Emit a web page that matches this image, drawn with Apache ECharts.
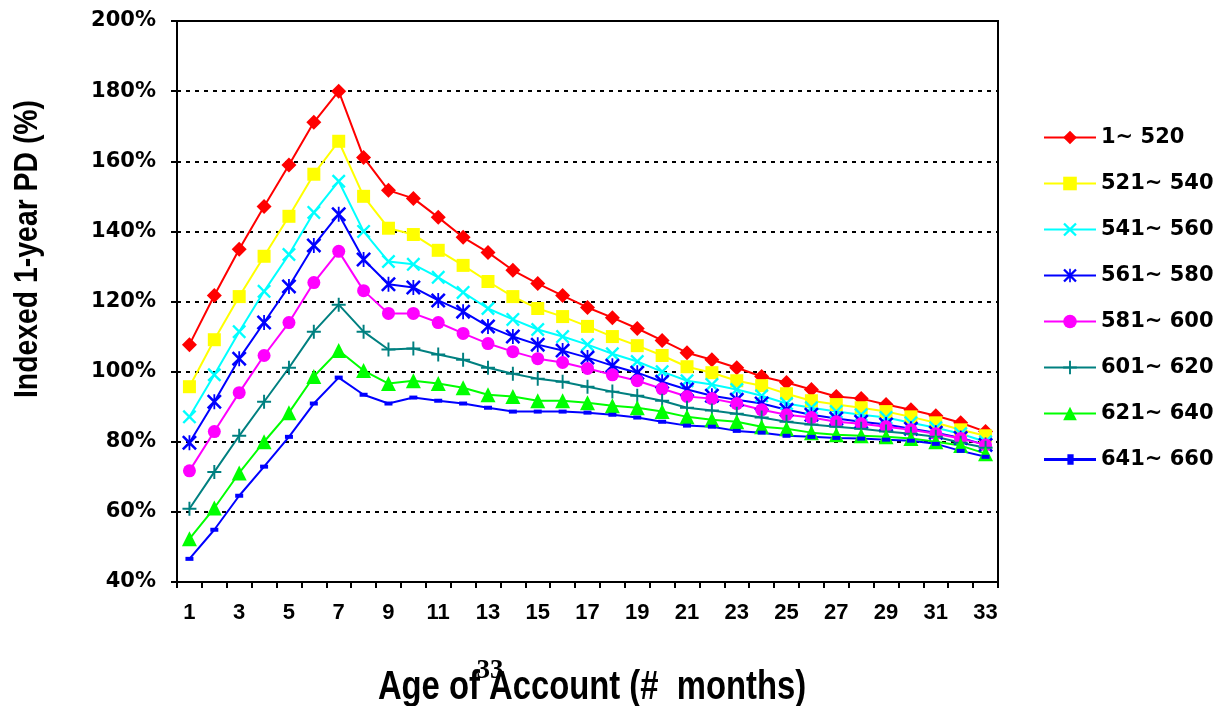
<!DOCTYPE html>
<html>
<head>
<meta charset="utf-8">
<script src="https://cdn.jsdelivr.net/npm/echarts@6/dist/echarts.min.js"></script>
<style>
  html, body { margin: 0; padding: 0; background: #fff; }
  #chart { width: 1231px; height: 706px; }
</style>
</head>
<body>
<div id="chart"></div>
<script>
var months = ['1','2','3','4','5','6','7','8','9','10','11','12','13','14','15','16','17','18','19','20','21','22','23','24','25','26','27','28','29','30','31','32','33']
var yTicks = { min: 40, max: 200, step: 20 }

var names = ['1~ 520', '521~ 540', '541~ 560', '561~ 580', '581~ 600', '601~ 620', '621~ 640', '641~ 660']

var s520 = [107.7,121.7,134.9,147.1,158.9,171.1,180,161.1,151.7,149.4,144,138.3,134,128.9,125.1,121.7,118.3,115.4,112.3,108.9,105.4,103.4,101.1,98.6,96.9,94.9,92.9,92.3,90.6,89.1,87.4,85.4,82.9]
var s540 = [95.7,109.1,121.4,132.9,144.3,156.3,165.7,150,140.9,139.1,134.6,130.3,125.7,121.4,118,115.7,112.9,110,107.4,104.6,101.4,99.7,97.4,96,93.7,91.7,90.6,89.7,88.6,87.1,85.4,83.4,81.7]
var s560 = [87.1,99.1,111.4,122.9,133.4,145.4,154.3,140,131.4,130.6,126.9,122.6,118,114.9,112,110,107.7,105.1,102.9,100,97.4,96.3,94.9,93.1,90.9,89.7,88.6,87.7,86.9,85.4,84,82.3,80]
var s580 = [79.7,91.4,103.7,114,124.3,136,144.9,132,124.9,124,120.3,117.1,112.9,110,107.7,106,104,101.7,99.7,97.1,94.9,93.1,92,90.9,89.1,87.7,86.6,85.7,84.9,83.7,82.6,81.1,79.1]
var s600 = [71.7,82.9,94,104.6,114,125.4,134.3,123.1,116.6,116.6,114,110.9,108,105.7,103.7,102.6,100.9,99.1,97.4,95.1,92.9,92.3,90.9,89.1,87.7,86.9,85.7,85.1,84.3,83.4,82.3,80.9,79.1]
var s620 = [60.9,71.4,81.7,91.4,101.1,111.4,119.1,111.4,106.3,106.6,104.9,103.4,101.1,99.4,98,97.1,95.7,94.3,93.1,91.7,89.7,88.9,88,86.9,85.7,84.9,84.3,83.7,82.9,82.3,81.4,79.7,78.3]
var s640 = [52.3,61.1,71.1,80,88.3,98.6,106,100.3,96.6,97.4,96.6,95.4,93.4,92.9,91.7,91.7,91.1,90.3,89.7,88.6,87.1,86.3,85.7,84.3,83.7,82.6,82,81.7,81.4,80.9,80,78.9,76.6]
var s660 = [46.6,54.9,64.6,72.9,81.4,90.9,98.3,93.4,90.9,92.6,91.7,90.9,89.7,88.6,88.6,88.6,88.3,87.7,86.9,85.7,84.6,84.3,83.1,82.6,81.7,81.4,81.1,80.9,80.6,80.3,79.4,77.4,75.7]

var crossPath = 'path://M0,0.12L0.12,0L0.5,0.38L0.88,0L1,0.12L0.62,0.5L1,0.88L0.88,1L0.5,0.62L0.12,1L0,0.88L0.38,0.5Z'
var starPath = 'path://M0,0.12L0.12,0L0.44,0.32L0.44,0L0.56,0L0.56,0.32L0.88,0L1,0.12L0.62,0.5L1,0.88L0.88,1L0.56,0.68L0.56,1L0.44,1L0.44,0.68L0.12,1L0,0.88L0.38,0.5Z'
var plusPath = 'path://M0.43,0h0.14v0.43h0.43v0.14h-0.43v0.43h-0.14v-0.43h-0.43v-0.14h0.43Z'
// legend icon for the last series: line with a small dash in the middle
var dashLegend = 'path://M0,0.47h0.45v-0.07h0.12v0.07h0.43v0.06h-0.43v0.07h-0.12v-0.07h-0.45Z'

function makeSeries(name, data, color, symbol, size) {
  return {
    name: name,
    type: 'line',
    data: data,
    symbol: symbol,
    symbolSize: size,
    showAllSymbol: true,
    lineStyle: { color: color, width: 2 },
    itemStyle: { color: color, borderWidth: 0 },
    emphasis: { disabled: true },
    animation: false
  }
}

var legendData = names.map(function (n, i) {
  return i === 7 ? { name: n, icon: dashLegend, itemStyle: { borderWidth: 0 } } : { name: n }
})

var chart = echarts.init(document.getElementById('chart'))

var option = {
  backgroundColor: '#fff',
  animation: false,
  grid: {
    left: 177,
    right: 233,
    top: 21,
    bottom: 124,
    show: true,
    borderColor: '#000',
    borderWidth: 2
  },
  legend: {
    orient: 'vertical',
    left: 1038,
    top: 122,
    itemWidth: 52,
    itemHeight: 17,
    itemGap: 25,
    data: legendData,
    textStyle: {
      fontFamily: 'DejaVu Sans',
      fontWeight: 'bold',
      fontSize: 21,
      color: '#000'
    }
  },
  xAxis: {
    type: 'category',
    data: months,
    boundaryGap: true,
    axisLine: { lineStyle: { color: '#000', width: 2 } },
    axisTick: { show: true, interval: 0, length: 6, lineStyle: { color: '#000', width: 2 } },
    axisLabel: {
      interval: 1,
      margin: 20,
      fontFamily: 'Liberation Sans',
      fontWeight: 'bold',
      fontSize: 22,
      color: '#000'
    },
    splitLine: { show: false }
  },
  yAxis: {
    type: 'value',
    min: yTicks.min,
    max: yTicks.max,
    interval: yTicks.step,
    axisLine: { show: true, lineStyle: { color: '#000', width: 2 } },
    axisTick: { show: true, length: 6, lineStyle: { color: '#000', width: 2 } },
    axisLabel: {
      formatter: '{value}%',
      margin: 21,
      fontFamily: 'DejaVu Sans',
      fontWeight: 'bold',
      fontSize: 21,
      color: '#000'
    },
    splitLine: { show: true, lineStyle: { color: '#000', width: 2, type: [4, 5] } }
  },
  graphic: [
    {
      type: 'text',
      x: 592,
      y: 688,
      scaleX: 0.82,
      style: {
        text: 'Age of Account (#  months)',
        font: 'bold 40px "Liberation Sans"',
        fill: '#000',
        textAlign: 'center',
        textVerticalAlign: 'middle'
      }
    },
    {
      type: 'text',
      x: 490,
      y: 671,
      style: {
        text: '33',
        font: 'bold 27px "Liberation Serif"',
        fill: '#000',
        textAlign: 'center',
        textVerticalAlign: 'middle'
      }
    },
    {
      type: 'text',
      x: 28,
      y: 249,
      rotation: Math.PI / 2,
      scaleX: 0.86,
      style: {
        text: 'Indexed 1-year PD (%)',
        font: 'bold 33px "Liberation Sans"',
        fill: '#000',
        textAlign: 'center',
        textVerticalAlign: 'middle'
      }
    }
  ],
  series: [
    makeSeries(names[0], s520, '#FF0000', 'diamond', 15),
    makeSeries(names[1], s540, '#FFFF00', 'rect', 13),
    makeSeries(names[2], s560, '#00FFFF', crossPath, 14),
    makeSeries(names[3], s580, '#0000FF', starPath, 15),
    makeSeries(names[4], s600, '#FF00FF', 'circle', 13),
    makeSeries(names[5], s620, '#008080', plusPath, 14),
    makeSeries(names[6], s640, '#00FF00', 'triangle', 15),
    makeSeries(names[7], s660, '#0000FF', 'rect', [8, 4])
  ]
}

chart.setOption(option)
</script>
</body>
</html>
